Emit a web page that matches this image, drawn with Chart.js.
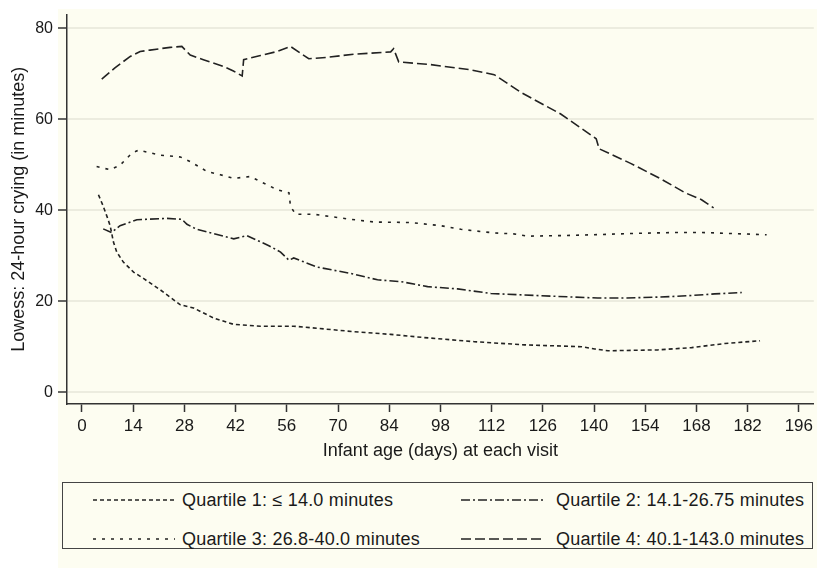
<!DOCTYPE html>
<html>
<head>
<meta charset="utf-8">
<script src="https://cdn.jsdelivr.net/npm/chart.js@4.4.1/dist/chart.umd.min.js"></script>
<style>
  html, body { margin: 0; padding: 0; background: #fff; }
  #bg { position: absolute; left: 58px; top: 9px; width: 759px; height: 559px; background: #fdfdf1; }
  #wrap { position: absolute; left: 0; top: 0; width: 817px; height: 470px; }
  #legend { position: absolute; left: 62px; top: 482px; width: 749px; height: 65px; border: 1px solid #444; background: #fdfdf1;
    font-family: "Liberation Sans", Arial, sans-serif; font-size: 18px; letter-spacing: 0.2px; color: #1a1a1a; }
  .item { position: absolute; height: 22px; line-height: 22px; white-space: nowrap; }
  .item svg { position: absolute; left: 0; top: 5px; }
  .item span { position: absolute; top: 0; }
</style>
</head>
<body>
<div id="bg"></div>
<div id="wrap"><canvas id="chart"></canvas></div>
<div id="legend"></div>
<script>
// Quartile 1: <= 14.0 minutes
var q1Days = [4.5, 5.8, 6.8, 7.7, 8.6, 9.5, 11.3, 14.1, 16.8, 21.4, 26.9, 30.5, 36, 41.5, 48.8, 57.9, 66.2, 74.4, 84.4, 93.6, 107.3, 121, 136.5, 140.2, 143.8, 157.5, 166.7, 175.8, 185.4];
var q1Vals = [43.4, 40.9, 38.7, 36.6, 33.0, 30.8, 28.6, 26.4, 25.0, 22.5, 19.2, 18.5, 16.3, 14.9, 14.5, 14.5, 13.9, 13.3, 12.7, 12.0, 11.1, 10.4, 10.0, 9.5, 9.1, 9.3, 9.8, 10.7, 11.3];

// Quartile 2: 14.1-26.75 minutes
var q2Days = [5.8, 8.1, 10.4, 15, 23.2, 27.3, 28.7, 31.4, 38.7, 41.5, 45.1, 51.1, 54.3, 56.6, 57.9, 64.3, 73.5, 80.8, 87.2, 94.5, 102.7, 111.8, 125.5, 134.7, 141, 148.4, 157.5, 165.8, 173, 180.4];
var q2Vals = [35.9, 35.1, 36.6, 37.9, 38.2, 38.0, 36.9, 35.8, 34.3, 33.7, 34.4, 32.2, 30.8, 29.0, 29.5, 27.5, 26.1, 24.7, 24.3, 23.2, 22.7, 21.7, 21.2, 20.9, 20.7, 20.7, 20.9, 21.2, 21.6, 21.9];

// Quartile 3: 26.8-40.0 minutes
var q3Days = [4, 7.7, 10.4, 13.6, 15.4, 21.4, 26.9, 29.6, 34.2, 37.8, 41.5, 46, 48.8, 53.4, 56.6, 57, 58.4, 63.4, 73.5, 79.9, 89.9, 98.1, 103.6, 112.7, 118, 121.9, 130, 140, 151, 162, 169.4, 180.4, 187.2];
var q3Vals = [49.6, 48.9, 49.9, 52.5, 53.2, 52.1, 51.7, 50.7, 48.5, 47.8, 47.0, 47.4, 46.3, 44.5, 43.8, 40.9, 39.1, 39.1, 38.0, 37.4, 37.3, 36.6, 35.8, 35.0, 34.8, 34.3, 34.4, 34.6, 34.9, 35.1, 35.1, 34.8, 34.6];

// Quartile 4: 40.1-143.0 minutes
var q4Days = [5.4, 9, 13.2, 15.9, 18.6, 24.1, 27.3, 29.6, 33.2, 38.7, 41.4, 43.8, 44.2, 48.8, 53.4, 57, 59.8, 62, 67, 74.3, 84.4, 85.2, 86.6, 95.4, 106, 112.7, 120, 131, 140.6, 141.4, 150, 158, 165, 169.4, 172.7];
var q4Vals = [68.8, 71.3, 73.8, 74.9, 75.2, 75.8, 76.0, 74.1, 73.1, 71.6, 70.6, 69.5, 73.1, 74.0, 74.9, 76.0, 74.5, 73.3, 73.6, 74.3, 74.8, 75.5, 72.6, 72.0, 70.9, 69.8, 65.9, 61.1, 55.7, 53.5, 50.3, 47.0, 43.8, 42.3, 40.5];

var xTicks = [0, 14, 28, 42, 56, 70, 84, 98, 112, 126, 140, 154, 168, 182, 196];
var yTicks = [0, 20, 40, 60, 80];

var seriesLabels = [
  "Quartile 1: \u2264 14.0 minutes",
  "Quartile 2: 14.1-26.75 minutes",
  "Quartile 3: 26.8-40.0 minutes",
  "Quartile 4: 40.1-143.0 minutes"
];
var dashes = [[4, 3], [9, 3, 2, 3], [3, 6], [10, 4]];

function pts(days, vals) {
  return days.map(function (d, i) { return { x: d, y: vals[i] }; });
}

var allDays = [q1Days, q2Days, q3Days, q4Days];
var allVals = [q1Vals, q2Vals, q3Vals, q4Vals];

var datasets = allDays.map(function (d, i) {
  return {
    label: seriesLabels[i],
    data: pts(d, allVals[i]),
    borderColor: "#222",
    borderWidth: 1.6,
    borderDash: dashes[i],
    pointRadius: 0,
    tension: 0,
    fill: false
  };
});

var sans = "'Liberation Sans', Arial, sans-serif";

var ctx = document.getElementById("chart").getContext("2d");

new Chart(ctx, {
  type: "line",
  data: { datasets: datasets },
  options: {
    responsive: true,
    maintainAspectRatio: false,
    animation: false,
    layout: { padding: { top: 9, right: 0, left: 0, bottom: 0 } },
    plugins: {
      legend: { display: false },
      tooltip: { enabled: false }
    },
    scales: {
      x: {
        type: "linear",
        min: -4.1,
        max: 200.1,
        afterBuildTicks: function (scale) {
          scale.ticks = xTicks.map(function (v) { return { value: v }; });
        },
        afterFit: function (scale) { scale.height = 66; },
        border: { color: "#333", width: 1.5 },
        grid: {
          drawOnChartArea: false,
          drawTicks: true,
          tickLength: 8,
          tickColor: "#333",
          tickWidth: 1.5
        },
        ticks: {
          padding: 4,
          maxRotation: 0,
          autoSkip: false,
          color: "#1a1a1a",
          font: { size: 17, family: sans }
        },
        title: {
          display: true,
          text: "Infant age (days) at each visit",
          color: "#1a1a1a",
          padding: { top: 8, bottom: 8 },
          font: { size: 18, family: sans }
        }
      },
      y: {
        type: "linear",
        min: -2.6,
        max: 83,
        afterBuildTicks: function (scale) {
          scale.ticks = yTicks.map(function (v) { return { value: v }; });
        },
        afterFit: function (scale) { scale.width = 67; },
        border: { color: "#333", width: 1.5 },
        grid: {
          drawOnChartArea: true,
          color: "#ececdf",
          lineWidth: 2,
          drawTicks: true,
          tickLength: 9,
          tickColor: "#333",
          tickWidth: 1.5
        },
        ticks: {
          padding: 5,
          color: "#1a1a1a",
          font: { size: 16, family: sans }
        },
        title: {
          display: true,
          text: "Lowess: 24-hour crying (in minutes)",
          color: "#1a1a1a",
          padding: { top: 8, bottom: 8 },
          font: { size: 18, family: sans }
        }
      }
    }
  }
});

// legend drawn as html, with svg line samples
var legend = document.getElementById("legend");
var spots = [[30, 6, 89], [398, 6, 95], [30, 45, 89], [398, 45, 95]];
seriesLabels.forEach(function (lab, i) {
  var div = document.createElement("div");
  div.className = "item";
  div.style.left = spots[i][0] + "px";
  div.style.top = spots[i][1] + "px";
  div.innerHTML = '<svg width="82" height="12"><line x1="0" y1="6" x2="82" y2="6" stroke="#222" stroke-width="1.6" stroke-dasharray="' +
    dashes[i].join(",") + '"/></svg><span style="left:' + spots[i][2] + 'px">' + lab + "</span>";
  legend.appendChild(div);
});
</script>
</body>
</html>
